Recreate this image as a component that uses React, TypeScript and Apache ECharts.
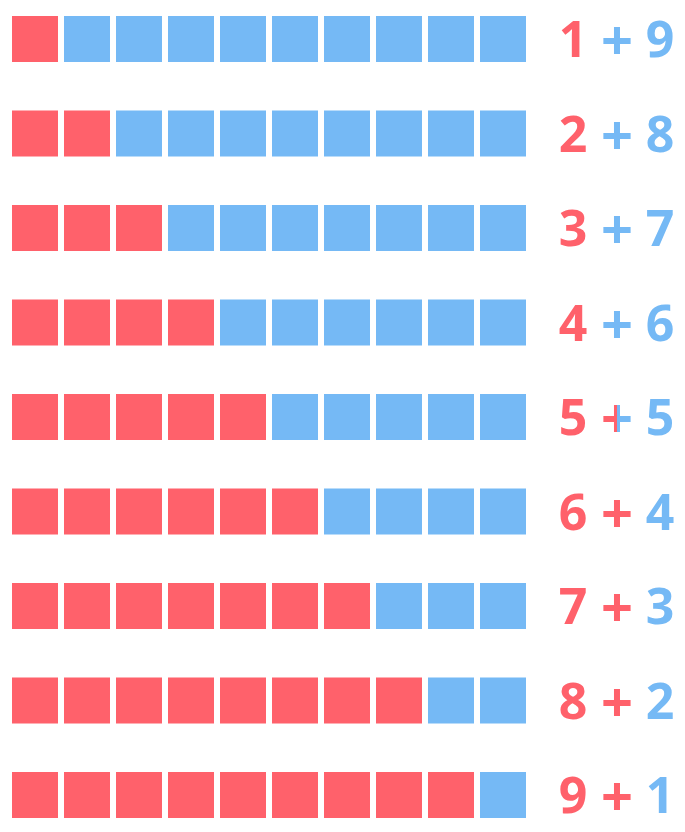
import React, { useEffect, useRef } from "react";
import * as echarts from "echarts";

const redCounts = [1, 2, 3, 4, 5, 6, 7, 8, 9];
const blueCounts = [9, 8, 7, 6, 5, 4, 3, 2, 1];
const cellsPerRow = 10;

const RED = "#FF616B";
const BLUE = "#75B9F5";

export default function App() {
  const ref = useRef<HTMLDivElement>(null);
  useEffect(() => {
    if (!ref.current) return;
    const chart = echarts.init(ref.current, null, { renderer: "svg" });

    const redCells: number[][] = [];
    const blueCells: number[][] = [];
    redCounts.forEach((rc, r) => {
      const total = rc + blueCounts[r];
      for (let k = 0; k < total; k++) {
        (k < rc ? redCells : blueCells).push([k, r]);
      }
    });
    const labelData = redCounts.map((rc, r) => [r, rc, blueCounts[r]]);

    const font = "'Noto Sans', sans-serif";

    chart.setOption({
      animation: false,
      grid: { left: 9, width: 520, top: 39, height: 756 },
      xAxis: { type: "value", min: -0.5, max: cellsPerRow - 0.5, show: false },
      yAxis: { type: "value", min: 0, max: redCounts.length - 1, inverse: true, show: false },
      series: [
        {
          type: "scatter",
          symbol: "rect",
          symbolSize: 46,
          itemStyle: { color: RED, opacity: 1 },
          data: redCells,
          silent: true,
        },
        {
          type: "scatter",
          symbol: "rect",
          symbolSize: 46,
          itemStyle: { color: BLUE, opacity: 1 },
          data: blueCells,
          silent: true,
        },
        {
          type: "custom",
          clip: false,
          silent: true,
          data: labelData,
          renderItem: (params: any, api: any) => {
            const r = api.value(0);
            const a = api.value(1);
            const b = api.value(2);
            const p = api.coord([cellsPerRow - 1, r]);
            const cy = p[1] - 1;
            const x0 = p[0];
            const common = {
              font: `bold 50px ${font}`,
              align: "center",
              verticalAlign: "middle",
            };
            const plusStyle = { ...common, font: `bold 56px ${font}` };
            const px = x0 + 114;
            const plus: any[] = [];
            if (a === b) {
              plus.push({
                type: "group",
                clipPath: { type: "rect", shape: { x: px - 40, y: cy - 40, width: 40, height: 80 } },
                children: [{ type: "text", x: px, y: cy, style: { ...plusStyle, text: "+", fill: RED } }],
              });
              plus.push({
                type: "group",
                clipPath: { type: "rect", shape: { x: px, y: cy - 40, width: 40, height: 80 } },
                children: [{ type: "text", x: px, y: cy, style: { ...plusStyle, text: "+", fill: BLUE } }],
              });
            } else {
              plus.push({ type: "text", x: px, y: cy, style: { ...plusStyle, text: "+", fill: a > b ? RED : BLUE } });
            }
            return {
              type: "group",
              children: [
                { type: "text", x: x0 + 70, y: cy, style: { ...common, text: String(a), fill: RED } },
                ...plus,
                { type: "text", x: x0 + 157, y: cy, style: { ...common, text: String(b), fill: BLUE } },
              ],
            };
          },
        },
      ],
    });
    return () => chart.dispose();
  }, []);
  return <div ref={ref} style={{ width: 685, height: 832, margin: -8 }} />;
}
